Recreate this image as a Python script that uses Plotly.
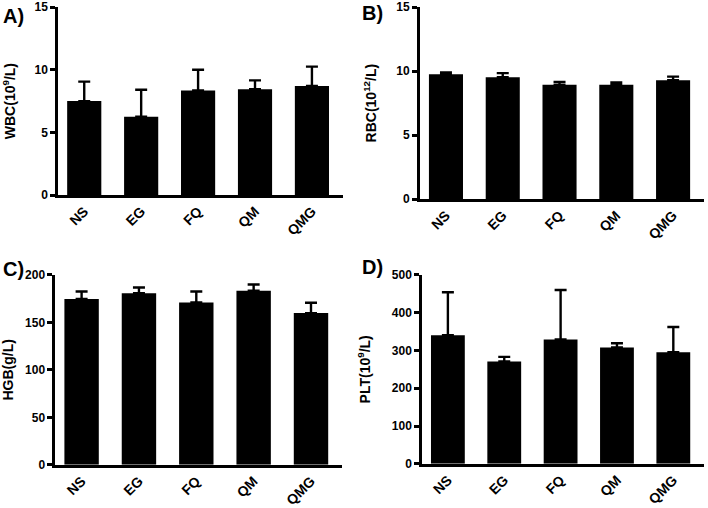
import plotly.graph_objects as go

groups = ["NS", "EG", "FQ", "QM", "QMG"]

wbc_mean = [7.5, 6.25, 8.35, 8.45, 8.7]
wbc_top = [9.05, 8.4, 10.0, 9.15, 10.25]

rbc_mean = [9.76, 9.52, 8.93, 8.93, 9.29]
rbc_top = [9.89, 9.84, 9.16, 9.11, 9.57]

hgb_mean = [174.5, 180.7, 171.0, 183.2, 159.7]
hgb_top = [182.5, 186.7, 182.5, 189.8, 170.6]

plt_mean = [340, 271, 329, 308, 295]
plt_top = [454, 283, 460, 319, 362]

panels = [
    ("A)", "WBC(10<sup>9</sup>/L)", wbc_mean, wbc_top, [0, 15], [0, 5, 10, 15]),
    ("B)", "RBC(10<sup>12</sup>/L)", rbc_mean, rbc_top, [0, 15], [0, 5, 10, 15]),
    ("C)", "HGB(g/L)", hgb_mean, hgb_top, [0, 200], [0, 50, 100, 150, 200]),
    ("D)", "PLT(10<sup>9</sup>/L)", plt_mean, plt_top, [0, 500], [0, 100, 200, 300, 400, 500]),
]

xdomains = [[0.082, 0.484], [0.593, 0.994], [0.078, 0.483], [0.596, 0.994]]
ydomains = [[0.616, 0.986], [0.608, 0.986], [0.085, 0.459], [0.087, 0.459]]
label_pos = [(0.002, 0.994), (0.508, 1.0), (0.001, 0.496), (0.508, 0.500)]
standoffs = [17, 17, 16, 18]

FONT = "Arial, Liberation Sans, sans-serif"

fig = go.Figure()
layout = dict(
    width=708, height=508,
    margin=dict(l=0, r=0, t=0, b=0),
    paper_bgcolor="white", plot_bgcolor="white",
    showlegend=False,
    font=dict(family=FONT, color="black"),
    annotations=[],
)

for i, (lab, ytitle, mean, top, yr, tv) in enumerate(panels):
    n = i + 1
    xa = "x" if n == 1 else f"x{n}"
    ya = "y" if n == 1 else f"y{n}"
    err = [t - m for t, m in zip(top, mean)]
    fig.add_trace(go.Bar(
        x=groups, y=mean, xaxis=xa, yaxis=ya, width=0.6,
        marker=dict(color="black", line=dict(color="black", width=0)),
        error_y=dict(type="data", symmetric=False, array=err,
                     arrayminus=[0] * len(err), color="black",
                     thickness=2.4, width=6),
    ))
    xkey = "xaxis" if n == 1 else f"xaxis{n}"
    ykey = "yaxis" if n == 1 else f"yaxis{n}"
    layout[xkey] = dict(
        domain=xdomains[i], anchor=ya, range=[-0.46, 4.54],
        showline=True, linecolor="black", linewidth=2.5,
        ticks="", tickangle=-45, showgrid=False, zeroline=False,
        automargin=False,
        tickfont=dict(family=FONT, size=14, weight="bold", color="black"),
    )
    layout[ykey] = dict(
        domain=ydomains[i], anchor=xa, range=yr, tickvals=tv,
        showline=True, linecolor="black", linewidth=2.5,
        ticks="outside", ticklen=5, tickwidth=2.5, tickcolor="black",
        showgrid=False, zeroline=False, automargin=False,
        tickfont=dict(family=FONT, size=12, weight="bold", color="black"),
        title=dict(text=ytitle, standoff=standoffs[i],
                   font=dict(family=FONT, size=14, weight="bold", color="black")),
    )
    layout["annotations"].append(dict(
        text=lab, xref="paper", yref="paper", x=label_pos[i][0], y=label_pos[i][1],
        xanchor="left", yanchor="top", showarrow=False,
        font=dict(family=FONT, size=20, weight="bold", color="black"),
    ))

fig.update_layout(**layout)
fig.write_html("out.html", config={"displayModeBar": False},
               post_script="document.body.style.margin='0px';document.body.style.overflow='hidden';")
